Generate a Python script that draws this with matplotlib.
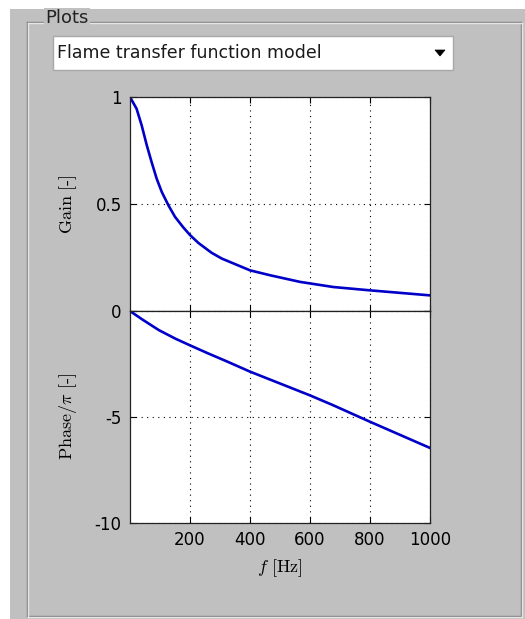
import matplotlib
matplotlib.use('Agg')
import matplotlib.pyplot as plt
from matplotlib.patches import Rectangle, Polygon
from matplotlib.lines import Line2D

plt.rcParams['mathtext.fontset'] = 'cm'
plt.rcParams['font.family'] = 'DejaVu Sans'

# values
gain_freq = [0, 22, 39, 56, 72, 89, 106, 128, 150, 178, 200, 228, 272, 306, 400,
             467, 567, 678, 796, 1000]
gain = [1.0, 0.945, 0.867, 0.774, 0.696, 0.618, 0.556, 0.494, 0.44, 0.39, 0.355,
        0.318, 0.272, 0.245, 0.19, 0.167, 0.136, 0.112, 0.097, 0.073]
phase_freq = [0, 40, 96, 152, 200, 262, 320, 400, 500, 600, 678, 796, 1000]
phase = [0, -0.39, -0.9, -1.31, -1.62, -2.01, -2.36, -2.86, -3.42, -3.98, -4.45,
         -5.2, -6.46]

x_ticks = [200, 400, 600, 800, 1000]
gain_ticks = [0, 0.5, 1]
phase_ticks = [-10, -5, 0]

W, H = 525, 619
grey = '#c0c0c0'
blue = '#0000c8'


def fx(px):
    return px / W


def fy(py):
    return 1 - py / H


def fig_line(fig, x0, y0, x1, y1, color, lw=1.0):
    fig.add_artist(Line2D([fx(x0), fx(x1)], [fy(y0), fy(y1)], color=color,
                          lw=lw, transform=fig.transFigure, zorder=-5))


fig = plt.figure(figsize=(W / 100, H / 100), dpi=100, facecolor='white')

# gui background and "Plots" frame
fig.add_artist(Rectangle((fx(10), 0), 1 - fx(10), fy(9), transform=fig.transFigure,
                         facecolor=grey, edgecolor='none', zorder=-10))
for c, d in [('#7f7f7f', 0), ('#e6e6e6', 1)]:
    fig_line(fig, 27 + d, 22 + d, 521 + d, 22 + d, c)
    fig_line(fig, 27 + d, 22 + d, 27 + d, 616 + d, c)
    fig_line(fig, 27 + d, 616 + d, 521 + d, 616 + d, c)
    fig_line(fig, 521 + d, 22 + d, 521 + d, 616 + d, c)
fig.text(fx(45), fy(18), 'Plots', fontsize=13, va='center', ha='left', color='#222222',
         bbox=dict(facecolor=grey, edgecolor='none', pad=1.0))

# dropdown
fig.add_artist(Rectangle((fx(53), fy(70)), fx(400), 34 / H, transform=fig.transFigure,
                         facecolor='white', edgecolor='#a8a8a8', lw=1, zorder=-4))
fig.text(fx(57), fy(53), 'Flame transfer function model', fontsize=12.5,
         va='center', ha='left', color='#1a1a1a')
fig.add_artist(Polygon([[fx(435), fy(50)], [fx(445), fy(50)], [fx(440), fy(56)]],
                       closed=True, transform=fig.transFigure, facecolor='black',
                       edgecolor='black', lw=0.5))

# axes
left, width = fx(130), 300 / W
ax1 = fig.add_axes([left, fy(311), width, 214 / H])
ax2 = fig.add_axes([left, fy(523), width, 212 / H])

ax1.plot(gain_freq, gain, color=blue, lw=1.9)
ax2.plot(phase_freq, phase, color=blue, lw=1.9)

ax1.set_ylim(0, 1)
ax1.set_yticks(gain_ticks)
ax1.set_yticklabels(['0', '0.5', '1'])
ax2.set_ylim(-10, 0)
ax2.set_yticks(phase_ticks)
ax2.set_yticklabels(['-10', '-5', ''])

for ax in (ax1, ax2):
    ax.set_xlim(0, 1000)
    ax.set_xticks(x_ticks)
    ax.set_facecolor('white')
    ax.grid(True, color='black', linestyle=(0, (1, 4)), lw=0.8)
    ax.tick_params(direction='in', top=True, right=True, length=4, width=0.8,
                   labelsize=12, colors='black', pad=6)
    for s in ax.spines.values():
        s.set_linewidth(0.9)
        s.set_color('#222222')

ax1.set_xticklabels([])
ax2.set_xticklabels([str(t) for t in x_ticks])

ax1.set_ylabel(r'$\mathrm{Gain\ [\text{-}]}$', fontsize=13)
ax2.set_ylabel(r'$\mathrm{Phase}/\pi\ \mathrm{[\text{-}]}$', fontsize=13)
ax2.set_xlabel(r'$f\ \mathrm{[Hz]}$', fontsize=13, labelpad=6)
ax1.yaxis.set_label_coords(-0.17, 0.5)
ax2.yaxis.set_label_coords(-0.17, 0.5)

fig.savefig('out.png', dpi=100, facecolor=fig.get_facecolor())
